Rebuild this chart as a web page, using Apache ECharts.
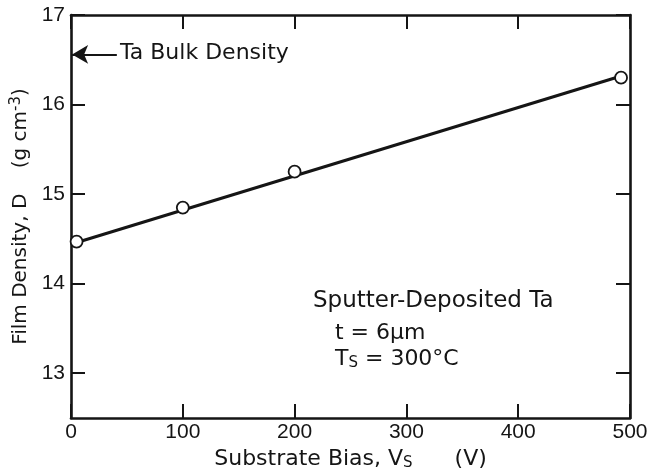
<!DOCTYPE html>
<html><head><meta charset="utf-8">
<script src="https://cdn.jsdelivr.net/npm/echarts@6/dist/echarts.min.js"></script>
<style>html,body{margin:0;padding:0;background:#fff}#c{width:652px;height:472px}</style>
</head><body><div id="c"></div>
<script>
// Data
const biasV = [5, 100, 200, 492];
const densityD = [14.47, 14.85, 15.25, 16.30];
const fitLineX = [0, 490];
const fitLineY = [14.44, 16.31];
const bulkDensity = 16.56;
const arrowTailX = 41;
const xTicks = [0, 100, 200, 300, 400, 500];
const yTicks = [13, 14, 15, 16, 17];

const FONT = 'DejaVu Sans';
const NUMFONT = 'Liberation Sans';
const INK = '#151515';
const chart = echarts.init(document.getElementById('c'));
const tickStyle = {show: true, inside: true, length: 14, lineStyle: {color: INK, width: 2}};
const lineStyle = {lineStyle: {color: INK, width: 2.6}};

chart.setOption({
  animation: false,
  grid: {left: 71, right: 22, top: 15, bottom: 54, containLabel: false, outerBoundsMode: 'none'},
  xAxis: [{
    type: 'value', min: 0, max: 500, interval: 100,
    axisLine: Object.assign({show: true, onZero: false}, lineStyle),
    axisTick: Object.assign({}, tickStyle),
    splitLine: {show: false},
    axisLabel: {color: INK, fontFamily: NUMFONT, fontSize: 21, margin: 4,
      customValues: xTicks},
    name: '{a|Substrate Bias, V}{s|S}{a|      (V)}',
    nameLocation: 'middle', nameGap: 27,
    nameTextStyle: {rich: {
      a: {fontFamily: FONT, fontSize: 22, color: INK},
      s: {fontFamily: FONT, fontSize: 15, color: INK, padding: [9, 0, 0, 0]}
    }}
  }, {
    type: 'value', min: 0, max: 500, interval: 100, position: 'top',
    axisLine: Object.assign({show: true, onZero: false}, lineStyle),
    axisTick: Object.assign({}, tickStyle),
    axisLabel: {show: false}, splitLine: {show: false}
  }],
  yAxis: [{
    type: 'value', min: 12.5, max: 17,
    axisLine: Object.assign({show: true, onZero: false}, lineStyle),
    axisTick: Object.assign({customValues: yTicks}, tickStyle),
    splitLine: {show: false},
    axisLabel: {color: INK, fontFamily: NUMFONT, fontSize: 21, margin: 6,
      customValues: yTicks},
    name: '{a|Film Density, D    (g cm}{s|-3}{a|)}',
    nameLocation: 'middle', nameGap: 22, nameRotate: 90,
    nameTextStyle: {rich: {
      a: {fontFamily: FONT, fontSize: 20, color: INK},
      s: {fontFamily: FONT, fontSize: 15, color: INK, padding: [0, 0, 10, 0]}
    }}
  }, {
    type: 'value', min: 12.5, max: 17, position: 'right',
    axisLine: Object.assign({show: true, onZero: false}, lineStyle),
    axisTick: Object.assign({customValues: yTicks}, tickStyle),
    axisLabel: {show: false}, splitLine: {show: false}
  }],
  series: [{
    type: 'line',
    data: fitLineX.map((x, i) => [x, fitLineY[i]]),
    symbol: 'none',
    lineStyle: {color: INK, width: 3},
    z: 2,
    markLine: {
      silent: true,
      symbol: ['arrow', 'none'], symbolSize: [14, 16],
      label: {show: false},
      lineStyle: {color: INK, width: 2.2, type: 'solid'},
      data: [[{coord: [1, bulkDensity]}, {coord: [arrowTailX, bulkDensity]}]]
    }
  }, {
    type: 'scatter',
    data: biasV.map((x, i) => [x, densityD[i]]),
    symbol: 'circle', symbolSize: 12,
    itemStyle: {color: '#fff', borderColor: INK, borderWidth: 1.8, opacity: 1},
    z: 3
  }],
  graphic: [
    {type: 'text', left: 120, top: 42, style: {text: 'Ta Bulk Density', font: '22px "' + FONT + '"', fill: INK}},
    {type: 'text', left: 313, top: 290, style: {text: 'Sputter-Deposited Ta', font: '23px "' + FONT + '"', fill: INK}},
    {type: 'text', left: 335, top: 322, style: {text: 't = 6μm', font: '22px "' + FONT + '"', fill: INK}},
    {type: 'text', left: 335, top: 348, style: {
      text: '{a|T}{s|S}{a| = 300°C}',
      rich: {
        a: {fontFamily: FONT, fontSize: 22, fill: INK},
        s: {fontFamily: FONT, fontSize: 15, fill: INK, padding: [9, 0, 0, 0]}
      }}}
  ]
});
</script></body></html>
